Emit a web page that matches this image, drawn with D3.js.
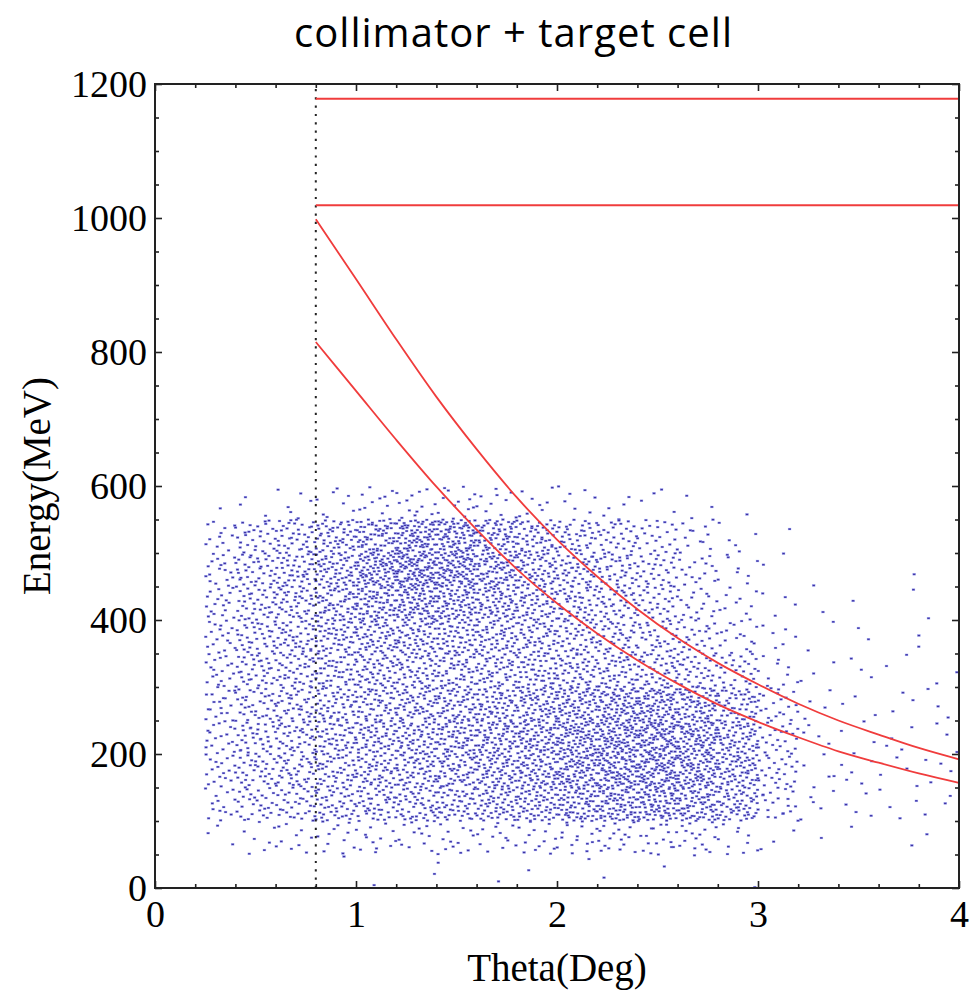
<!DOCTYPE html>
<html>
<head>
<meta charset="utf-8">
<script src="https://cdn.jsdelivr.net/npm/d3@7"></script>
<style>
  body { margin: 0; background: #fff; }
  .tick text { font-family: "Liberation Serif", "DejaVu Serif", serif; font-size: 38px; fill: #000; }
</style>
</head>
<body>
<div id="chart"></div>
<script>
// ---- data ----
var thetaTicks = [0, 1, 2, 3, 4];
var energyTicks = [0, 200, 400, 600, 800, 1000, 1200];

// collimator edge (dotted line)
var cutTheta = 0.8;
// flat red limits
var flatEnergies = [1178, 1019];

// red kinematic curves
var curveTheta = [0.8, 1.0, 1.2, 1.4, 1.6, 1.8, 2.0, 2.2, 2.4, 2.6, 2.8, 3.0, 3.2, 3.4, 3.6, 3.8, 4.0];
var upperCurve = [998, 909, 819, 733, 655, 583, 520, 465, 416, 373, 336, 304, 275, 250, 229, 209, 192];
var lowerCurve = [815, 742, 669, 599, 535, 476, 425, 380, 340, 305, 274, 248, 225, 204, 187, 171, 157];

// scatter density: counts of dots per cell (theta bin left edge x energy bin bottom edge)
var thetaBins = [0.2, 0.4, 0.6, 0.8, 1.0, 1.2, 1.4, 1.6, 1.8, 2.0, 2.2, 2.4, 2.6, 2.8, 3.0, 3.2, 3.4, 3.6, 3.8];
var energyBins = [550, 500, 450, 400, 350, 300, 250, 200, 150, 100, 50, 0];
var dotCounts = [
  [ 1,  3,  6,  8, 11, 13, 13, 10,  8,  7,  5,  4,  3,  1,  0,  0,  0,  0,  0],
  [12, 28, 38, 48, 62, 80, 80, 62, 48, 38, 30, 22, 12,  5,  1,  0,  0,  0,  0],
  [18, 36, 44, 56, 82, 98, 92, 70, 54, 46, 38, 30, 16,  8,  2,  1,  0,  1,  0],
  [18, 36, 44, 54, 68, 76, 70, 62, 52, 44, 38, 30, 19, 10,  4,  1,  1,  1,  1],
  [18, 36, 42, 50, 56, 56, 54, 52, 48, 44, 38, 33, 25, 16,  6,  2,  2,  1,  1],
  [18, 36, 40, 46, 48, 48, 48, 48, 48, 46, 44, 42, 34, 25, 10,  3,  3,  2,  2],
  [18, 34, 40, 45, 50, 53, 56, 58, 62, 68, 76, 76, 66, 48, 20,  4,  3,  3,  3],
  [18, 36, 40, 48, 54, 56, 60, 64, 70, 80, 88, 90, 80, 58, 24,  4,  4,  4,  3],
  [18, 34, 40, 45, 50, 54, 56, 62, 68, 80, 88, 90, 80, 62, 24,  5,  5,  4,  4],
  [14, 28, 33, 40, 44, 46, 48, 54, 58, 66, 72, 76, 68, 54, 20,  5,  4,  4,  3],
  [ 3,  7, 10, 12, 13, 13, 13, 13, 14, 16, 18, 18, 16, 10,  3,  1,  1,  1,  1],
  [ 0,  0,  0,  1,  1,  1,  1,  1,  1,  1,  1,  1,  1,  1,  0,  0,  0,  0,  0]
];
var thetaBinWidth = 0.2;
var energyBinHeight = 50;

// ---- layout ----
var svgWidth = 978;
var svgHeight = 990;
var plot = { left: 155, right: 959, top: 84, bottom: 888 };

var svg = d3.select("#chart")
  .append("svg")
  .attr("width", svgWidth)
  .attr("height", svgHeight);

var xScale = d3.scaleLinear().domain([0, 4]).range([plot.left, plot.right]);
var yScale = d3.scaleLinear().domain([0, 1200]).range([plot.bottom, plot.top]);

// deterministic low-discrepancy placement of dots inside each cell
function halton(i, b) {
  var f = 1, r = 0;
  while (i > 0) {
    f = f / b;
    r = r + f * (i % b);
    i = Math.floor(i / b);
  }
  return r;
}

var dots = [];
var k = 1;
dotCounts.forEach(function(row, ri) {
  row.forEach(function(n, ci) {
    // the first column only starts near 0.25 deg
    var lo = ci === 0 ? 0.25 : thetaBins[ci];
    var w = thetaBins[ci] + thetaBinWidth - lo;
    for (var j = 0; j < n; j++) {
      dots.push({
        theta: lo + halton(k, 2) * w,
        energy: energyBins[ri] + halton(k, 3) * energyBinHeight
      });
      k++;
    }
  });
});

// scatter points (dark core with a soft bluish edge like the original)
svg.append("g")
  .selectAll("rect")
  .data(dots)
  .enter()
  .append("rect")
  .attr("x", d => xScale(d.theta) - 1.4)
  .attr("y", d => yScale(d.energy) - 0.9)
  .attr("width", 2.8)
  .attr("height", 1.8)
  .attr("fill", "#3f31a0")
  .attr("stroke", "#8c9cff")
  .attr("stroke-width", 0.6)
  .attr("stroke-opacity", 0.55);

// dotted collimator line
svg.append("line")
  .attr("x1", xScale(cutTheta))
  .attr("x2", xScale(cutTheta))
  .attr("y1", yScale(0))
  .attr("y2", yScale(1200))
  .attr("stroke", "#222")
  .attr("stroke-width", 2)
  .attr("stroke-dasharray", "2.2,6.1");

// red flat lines
svg.append("g")
  .selectAll("line")
  .data(flatEnergies)
  .enter()
  .append("line")
  .attr("x1", xScale(cutTheta))
  .attr("x2", xScale(4))
  .attr("y1", d => yScale(d))
  .attr("y2", d => yScale(d))
  .attr("stroke", "#f03c3c")
  .attr("stroke-width", 1.8);

// red curves
var curveLine = d3.line()
  .x(d => xScale(d[0]))
  .y(d => yScale(d[1]))
  .curve(d3.curveMonotoneX);

[upperCurve, lowerCurve].forEach(function(vals) {
  svg.append("path")
    .datum(curveTheta.map((t, i) => [t, vals[i]]))
    .attr("d", curveLine)
    .attr("fill", "none")
    .attr("stroke", "#f03c3c")
    .attr("stroke-width", 1.8);
});

// ---- axes (ticks point inward on all four sides) ----
var thetaMinor = d3.range(0, 4.001, 0.2).filter(v => Math.abs(v - Math.round(v)) > 1e-6);
var energyMinor = d3.range(0, 1200.1, 50).filter(v => v % 200 !== 0);

function styleAxis(g) {
  g.select(".domain").remove();
  g.selectAll(".tick line").attr("stroke", "#222").attr("stroke-width", 1.6);
}

// bottom
svg.append("g")
  .attr("transform", `translate(0, ${plot.bottom})`)
  .call(d3.axisBottom(xScale).tickValues(thetaTicks).tickSize(-7).tickPadding(12).tickFormat(d3.format("d")))
  .call(styleAxis);
svg.append("g")
  .attr("transform", `translate(0, ${plot.bottom})`)
  .call(d3.axisBottom(xScale).tickValues(thetaMinor).tickSize(-4).tickFormat(""))
  .call(styleAxis);

// top
svg.append("g")
  .attr("transform", `translate(0, ${plot.top})`)
  .call(d3.axisTop(xScale).tickValues(thetaTicks).tickSize(-7).tickFormat(""))
  .call(styleAxis);
svg.append("g")
  .attr("transform", `translate(0, ${plot.top})`)
  .call(d3.axisTop(xScale).tickValues(thetaMinor).tickSize(-4).tickFormat(""))
  .call(styleAxis);

// left
svg.append("g")
  .attr("transform", `translate(${plot.left}, 0)`)
  .call(d3.axisLeft(yScale).tickValues(energyTicks).tickSize(-7).tickPadding(8).tickFormat(d3.format("d")))
  .call(styleAxis);
svg.append("g")
  .attr("transform", `translate(${plot.left}, 0)`)
  .call(d3.axisLeft(yScale).tickValues(energyMinor).tickSize(-4).tickFormat(""))
  .call(styleAxis);

// right
svg.append("g")
  .attr("transform", `translate(${plot.right}, 0)`)
  .call(d3.axisRight(yScale).tickValues(energyTicks).tickSize(-7).tickFormat(""))
  .call(styleAxis);
svg.append("g")
  .attr("transform", `translate(${plot.right}, 0)`)
  .call(d3.axisRight(yScale).tickValues(energyMinor).tickSize(-4).tickFormat(""))
  .call(styleAxis);

// frame
svg.append("rect")
  .attr("x", plot.left)
  .attr("y", plot.top)
  .attr("width", plot.right - plot.left)
  .attr("height", plot.bottom - plot.top)
  .attr("fill", "none")
  .attr("stroke", "#222")
  .attr("stroke-width", 2);

// ---- titles ----
svg.append("text")
  .attr("x", 513)
  .attr("y", 47)
  .attr("text-anchor", "middle")
  .attr("textLength", 438)
  .style("font-family", "'Open Sans', 'Noto Sans', sans-serif")
  .style("font-size", "40px")
  .text("collimator + target cell");

svg.append("text")
  .attr("x", (plot.left + plot.right) / 2)
  .attr("y", 981)
  .attr("text-anchor", "middle")
  .style("font-family", "'Liberation Serif', serif")
  .style("font-size", "39px")
  .text("Theta(Deg)");

svg.append("text")
  .attr("transform", `translate(50, ${(plot.top + plot.bottom) / 2}) rotate(-90)`)
  .attr("text-anchor", "middle")
  .style("font-family", "'Liberation Serif', serif")
  .style("font-size", "39px")
  .text("Energy(MeV)");
</script>
</body>
</html>
